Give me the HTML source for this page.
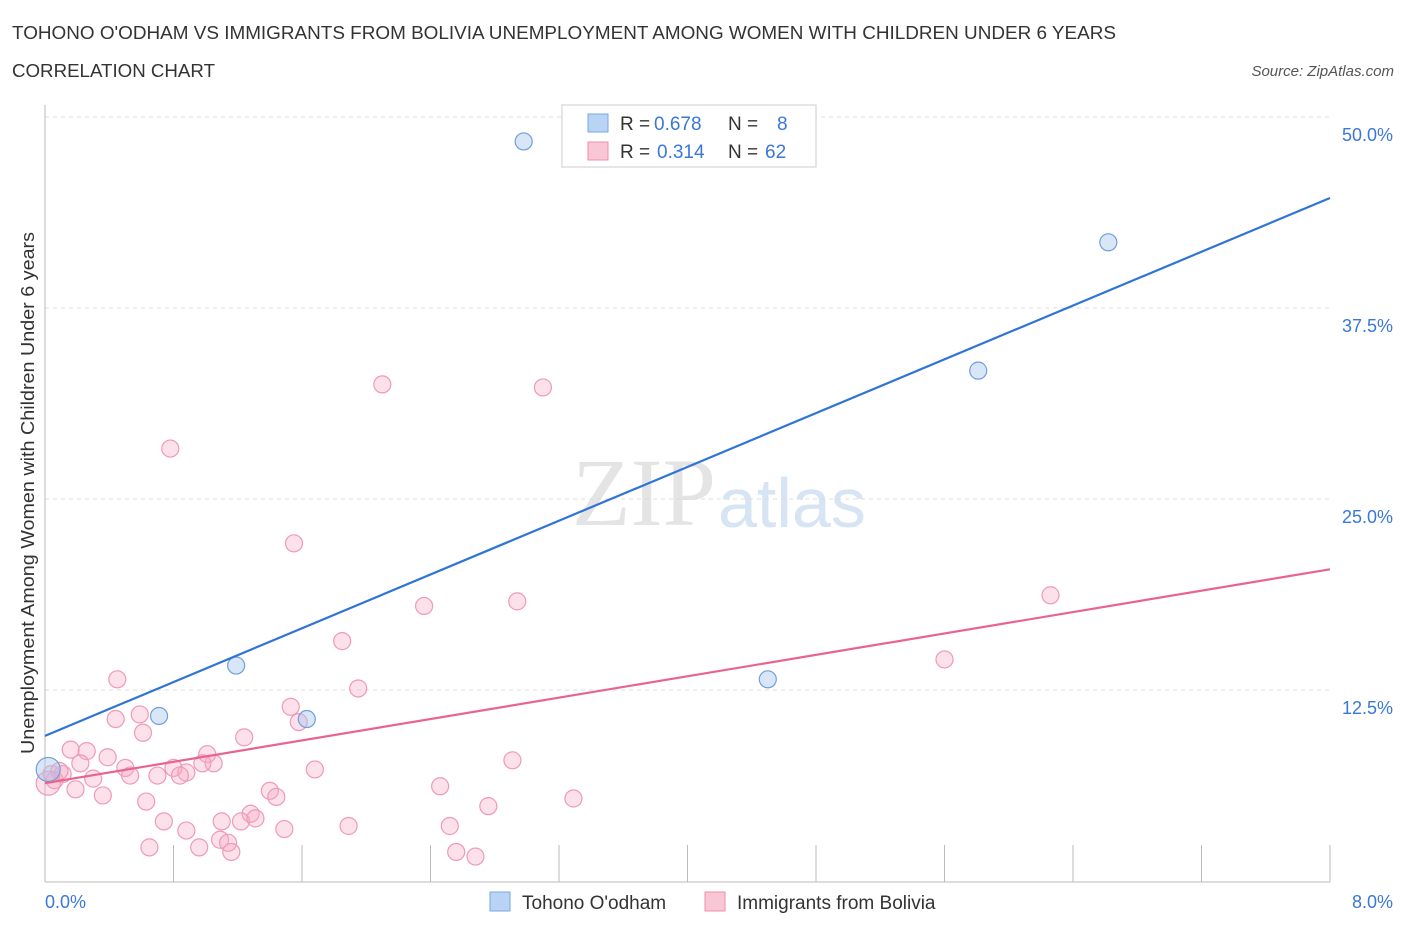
<!DOCTYPE html>
<html><head><meta charset="utf-8"><style>
body{margin:0;background:#fff;font-family:"Liberation Sans",sans-serif;}
</style></head><body>
<svg id="c" width="1406" height="930" xmlns="http://www.w3.org/2000/svg">
<text x="12" y="39" font-size="18" fill="#333" textLength="1104" lengthAdjust="spacingAndGlyphs">TOHONO O'ODHAM VS IMMIGRANTS FROM BOLIVIA UNEMPLOYMENT AMONG WOMEN WITH CHILDREN UNDER 6 YEARS</text>
<text x="12" y="77" font-size="18" fill="#333" textLength="203" lengthAdjust="spacingAndGlyphs">CORRELATION CHART</text>
<text x="1394" y="76" font-size="15" fill="#555" font-style="italic" text-anchor="end">Source: ZipAtlas.com</text>
<text x="716" y="525" font-size="96" fill="#e4e4e4" text-anchor="end" font-family="Liberation Serif">ZIP</text>
<text x="718" y="527" font-size="70" fill="#d6e4f4">atlas</text>
<g id="grid"></g>
<g id="marks"></g>
<text transform="translate(34,493) rotate(-90)" font-size="18" fill="#333" text-anchor="middle" textLength="522" lengthAdjust="spacingAndGlyphs">Unemployment Among Women with Children Under 6 years</text>
<g>
<rect x="562" y="105" width="254" height="62" fill="#fff" stroke="#ccc"/>
<rect x="588" y="114" width="20" height="18" fill="#b9d3f5" stroke="#7aa7e0"/>
<rect x="588" y="142" width="20" height="18" fill="#f9c6d4" stroke="#ee8fab"/>
<text x="620" y="130" font-size="19" fill="#333">R =</text>
<text x="654" y="130" font-size="19" fill="#3a78d8">0.678</text>
<text x="728" y="130" font-size="19" fill="#333">N =</text>
<text x="777" y="130" font-size="19" fill="#3a78d8">8</text>
<text x="620" y="158" font-size="19" fill="#333">R =</text>
<text x="657" y="158" font-size="19" fill="#3a78d8">0.314</text>
<text x="728" y="158" font-size="19" fill="#333">N =</text>
<text x="765" y="158" font-size="19" fill="#3a78d8">62</text>
</g>
<g>
<rect x="490" y="892" width="20" height="19" fill="#b9d3f5" stroke="#7aa7e0"/>
<text x="522" y="909" font-size="19" fill="#333">Tohono O'odham</text>
<rect x="705" y="892" width="20" height="19" fill="#f9c6d4" stroke="#ee8fab"/>
<text x="737" y="909" font-size="19" fill="#333">Immigrants from Bolivia</text>
</g>
</svg>
<script>
const yTicks=[12.5,25,37.5,50];
const yTickLabels=["12.5%","25.0%","37.5%","50.0%"];
const blueX=[2.98,6.62,5.81,1.19,0.71,1.63,4.50,0.02];
const blueY=[48.4,41.8,33.4,14.1,10.8,10.6,13.2,7.3];
const pinkX=[0.78,2.10,3.10,1.55,2.36,2.94,1.85,6.26,5.60,1.95,0.45,1.53,1.58,0.59,0.44,0.61,1.24,0.16,0.26,0.39,0.22,0.50,0.80,0.88,1.01,1.05,0.98,1.68,2.91,0.11,0.30,0.53,0.70,0.84,2.46,1.40,1.44,0.19,0.36,0.63,2.76,3.29,1.28,1.22,1.10,1.31,0.74,0.88,1.89,1.49,2.52,1.09,1.14,0.65,0.96,1.16,2.56,2.68,0.04,0.06,0.09,0.02];
const pinkY=[28.3,32.5,32.3,22.1,18.0,18.3,15.7,18.7,14.5,12.6,13.2,11.4,10.4,10.9,10.6,9.7,9.4,8.6,8.5,8.1,7.7,7.4,7.4,7.1,8.3,7.7,7.7,7.3,7.9,7.0,6.7,6.9,6.9,6.9,6.2,5.9,5.5,6.0,5.6,5.2,4.9,5.4,4.4,3.9,3.9,4.1,3.9,3.3,3.6,3.4,3.6,2.7,2.5,2.2,2.2,1.9,1.9,1.6,7.0,6.6,7.2,6.4];
const blueLine=[9.5,44.7];
const pinkLine=[6.4,20.4];
const X=v=>45+v/8*1285, Y=v=>881-v/12.5*191;
const ns="http://www.w3.org/2000/svg";
const grid=document.getElementById('grid'),marks=document.getElementById('marks');
function mk(tag,attrs,parent){const e=document.createElementNS(ns,tag);for(const k in attrs)e.setAttribute(k,attrs[k]);parent.appendChild(e);return e;}
yTicks.forEach((t,i)=>{
 const l=mk('line',{x1:45,x2:1330,y1:Y(t),y2:Y(t),stroke:'#ddd','stroke-dasharray':'4,4'},grid);
 
 
 const tx=mk('text',{x:1393,y:Y(t)+24,'font-size':18,fill:'#3a78d8','text-anchor':'end'},grid);
 tx.textContent=yTickLabels[i];
 
 
});
const ax=mk('line',{x1:45,x2:45,y1:105,y2:882,stroke:'#bbb'},grid);


const bx=mk('line',{x1:45,x2:1330,y1:882,y2:882,stroke:'#bbb'},grid);


for(let i=1;i<=10;i++){const xx=45+i*128.5;const t=mk('line',{x1:xx,x2:xx,y1:845,y2:882,stroke:'#bbb'},grid);
 
 }
[["0.0%",45,"start"],["8.0%",1393,"end"]].forEach(a=>{const t=mk('text',{x:a[1],y:908,'font-size':18,fill:'#3a78d8','text-anchor':a[2]},grid);t.textContent=a[0];
 
 });
pinkX.forEach((x,i)=>{const c=mk('circle',{cx:X(x),cy:Y(pinkY[i]),r:i==pinkX.length-1?12:8.5,fill:'rgba(246,170,195,0.35)',stroke:'#ef9ab5','stroke-width':1.2},marks);
 
 });
blueX.forEach((x,i)=>{const c=mk('circle',{cx:X(x),cy:Y(blueY[i]),r:i==blueX.length-1?12:8.5,fill:'rgba(170,200,240,0.45)',stroke:'#6f9fdc','stroke-width':1.2},marks);
 
 });
const bl=mk('line',{x1:X(0),y1:Y(blueLine[0]),x2:X(8),y2:Y(blueLine[1]),stroke:'#2f74d6','stroke-width':2.2},marks);


const pl=mk('line',{x1:X(0),y1:Y(pinkLine[0]),x2:X(8),y2:Y(pinkLine[1]),stroke:'#e8648f','stroke-width':2.2},marks);


</script>
</body></html>
